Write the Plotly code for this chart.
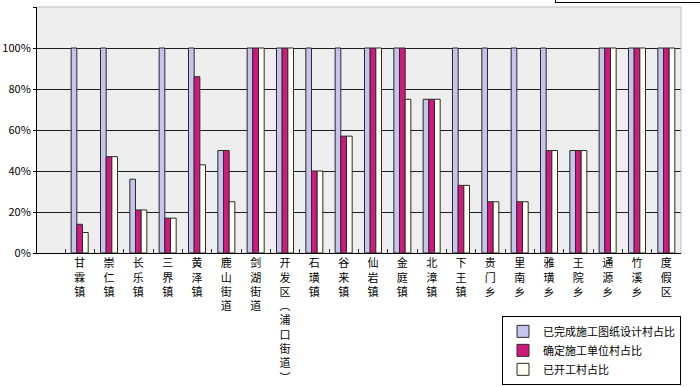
import plotly.graph_objects as go

categories = ["甘霖镇", "崇仁镇", "长乐镇", "三界镇", "黄泽镇", "鹿山街道", "剑湖街道",
              "开发区︵浦口街道︶", "石璜镇", "谷来镇", "仙岩镇", "金庭镇", "北漳镇", "下王镇",
              "贵门乡", "里南乡", "雅璜乡", "王院乡", "通源乡", "竹溪乡", "度假区"]

series_names = ["已完成施工图纸设计村占比", "确定施工单位村占比", "已开工村占比"]

design_done = [1.00, 1.00, 0.36, 1.00, 1.00, 0.50, 1.00, 1.00, 1.00, 1.00, 1.00,
               1.00, 0.75, 1.00, 1.00, 1.00, 1.00, 0.50, 1.00, 1.00, 1.00]
contractor_set = [0.14, 0.47, 0.21, 0.17, 0.86, 0.50, 1.00, 1.00, 0.40, 0.57, 1.00,
                  1.00, 0.75, 0.33, 0.25, 0.25, 0.50, 0.50, 1.00, 1.00, 1.00]
started = [0.10, 0.47, 0.21, 0.17, 0.43, 0.25, 1.00, 1.00, 0.40, 0.57, 1.00,
           0.75, 0.75, 0.33, 0.25, 0.25, 0.50, 0.50, 1.00, 1.00, 1.00]

y_ticks = [0, 0.2, 0.4, 0.6, 0.8, 1.0, 1.2]

colors = ["#C4C4EC", "#D2187E", "#FFFFF2"]

tick_text = ["<br>".join(list(c)) for c in categories]

fig = go.Figure()
for name, vals, col in zip(series_names, [design_done, contractor_set, started], colors):
    fig.add_trace(go.Bar(
        x=categories, y=vals, name=name,
        marker=dict(color=col, line=dict(color="#2a2a2a", width=1)),
    ))

FONT = "Noto Sans CJK SC, DejaVu Sans, sans-serif"

fig.update_layout(
    width=700, height=387, autosize=False,
    margin=dict(l=37, r=19, t=7, b=134, autoexpand=False),
    paper_bgcolor="white",
    plot_bgcolor="#EEEEEE",
    barmode="group",
    bargap=0.42,
    bargroupgap=0,
    font=dict(family=FONT, size=11, color="black"),
    showlegend=True,
    legend=dict(
        x=1.0, xanchor="right", y=-0.536, yanchor="bottom",
        bgcolor="white", bordercolor="black", borderwidth=1,
        font=dict(family=FONT, size=11, color="black"),
        tracegroupgap=0, itemwidth=30,
    ),
    xaxis=dict(
        type="category", automargin=False,
        range=[-1.455, 20.5],
        tickmode="array", tickvals=categories, ticktext=tick_text,
        tickson="boundaries", ticks="inside", ticklen=4, tickcolor="#333",
        showgrid=False, showline=True, linecolor="black", linewidth=1,
        tickfont=dict(family=FONT, size=11, color="black"),
        tickangle=0,
    ),
    yaxis=dict(
        automargin=False,
        range=[0, 1.2], tickvals=y_ticks, tickformat=".0%",
        showgrid=True, gridcolor="#1e1e1e", gridwidth=1,
        showline=True, linecolor="black", linewidth=1,
        ticks="outside", ticklen=3, tickcolor="black",
        tickfont=dict(family=FONT, size=11, color="black"),
        zeroline=False,
    ),
    shapes=[
        dict(type="line", xref="paper", yref="paper", x0=0, x1=1, y0=1, y1=1,
             line=dict(color="#BDBDBD", width=1)),
        dict(type="line", xref="paper", yref="paper", x0=1, x1=1, y0=0, y1=1,
             line=dict(color="#BDBDBD", width=1)),
    ],
    annotations=[
        dict(text="已完成施工图纸设计村占比", xref="paper", yref="paper",
             x=0.804, y=1.0163, xanchor="left", yanchor="bottom",
             showarrow=False, bordercolor="black", borderwidth=1, bgcolor="white",
             font=dict(family=FONT, size=12, color="black")),
    ],
)

fig.write_html(
    "out.html",
    config={"displayModeBar": False},
    post_script="document.body.style.margin='0';document.body.style.overflow='hidden';",
)
